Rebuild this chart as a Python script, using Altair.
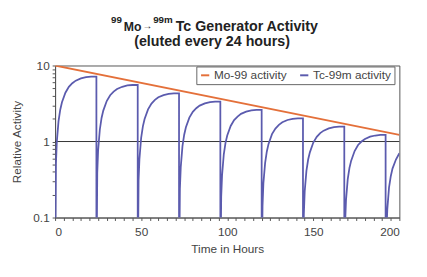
import altair as alt
import pandas as pd

# Hours into each 24 h elution cycle at which Tc-99m values were read
tau = [0, 0.5, 1, 2, 3, 4, 6, 8, 10, 12, 15, 18, 21, 24]
cycle_starts = [0, 24, 48, 72, 96, 120, 144, 168, 192]

# Tc-99m activity read per cycle (0.01 = below the 0.1 floor, right after elution)
tc_cycles = [
    [0.01, 0.51, 0.99, 1.85, 2.62, 3.28, 4.39, 5.23, 5.84, 6.32, 6.76, 7.02, 7.13, 7.14],
    [0.01, 0.39, 0.77, 1.44, 2.04, 2.55, 3.41, 4.06, 4.54, 4.91, 5.25, 5.46, 5.54, 5.55],
    [0.01, 0.31, 0.59, 1.12, 1.58, 1.98, 2.65, 3.16, 3.53, 3.82, 4.08, 4.24, 4.31, 4.31],
    [0.01, 0.24, 0.46, 0.87, 1.23, 1.54, 2.06, 2.46, 2.74, 2.97, 3.17, 3.30, 3.35, 3.35],
    [0.01, 0.19, 0.36, 0.68, 0.96, 1.20, 1.60, 1.91, 2.13, 2.31, 2.47, 2.56, 2.60, 2.61],
    [0.01, 0.14, 0.28, 0.52, 0.74, 0.93, 1.25, 1.48, 1.66, 1.79, 1.92, 1.99, 2.02, 2.02],
    [0.01, 0.11, 0.22, 0.41, 0.58, 0.72, 0.97, 1.15, 1.29, 1.39, 1.49, 1.55, 1.57, 1.57],
    [0.01, 0.087, 0.17, 0.32, 0.45, 0.56, 0.75, 0.90, 1.00, 1.08, 1.16, 1.20, 1.22, 1.22],
    [0.01, 0.067, 0.13, 0.25, 0.35, 0.44, 0.58, 0.70],
]

# Mo-99 activity (straight line on log scale)
mo_t = [0, 200]
mo_v = [10, 1.22]

series_names = ["Mo-99 activity", "Tc-99m activity"]
series_colors = ["#E4703A", "#5B5BAE"]

# Title pieces: (text, font size) — superscripts smaller
title_pieces = [("99", 10), ("Mo", 12.5), ("→", 10), ("99m", 10), ("Tc Generator Activity", 14.5)]
subtitle_text = "(eluted every 24 hours)"

rows = []
idx = 0
for t0, vals in zip(cycle_starts, tc_cycles):
    for dt, v in zip(tau, vals):
        rows.append({"t": t0 + dt, "v": v, "series": series_names[1], "i": idx})
        idx += 1
for t, v in zip(mo_t, mo_v):
    rows.append({"t": t, "v": v, "series": series_names[0], "i": idx})
    idx += 1
df = pd.DataFrame(rows)

x_ticks = list(range(0, 201, 5))
y_ticks = [0.1, 0.2, 0.3, 0.4, 0.5, 0.6, 0.7, 0.8, 0.9,
           1, 2, 3, 4, 5, 6, 7, 8, 9, 10]

lines = alt.Chart(df).mark_line(clip=True, strokeWidth=1.8).encode(
    x=alt.X("t:Q", scale=alt.Scale(domain=[0, 200], nice=False),
            axis=alt.Axis(title="Time in Hours", values=x_ticks,
                          labelExpr="datum.value % 50 == 0 ? datum.label : ''",
                          grid=False, tickSize=3, labelPadding=6,
                          titlePadding=7)),
    y=alt.Y("v:Q", scale=alt.Scale(type="log", domain=[0.1, 10], nice=False),
            axis=alt.Axis(title="Relative Activity", values=y_ticks,
                          labelExpr="datum.value == 0.1 ? '0.1' : datum.value == 1 ? '1' : datum.value == 10 ? '10' : ''",
                          grid=False, tickSize=3, labelPadding=3, titlePadding=10)),
    color=alt.Color("series:N",
                    scale=alt.Scale(domain=series_names, range=series_colors),
                    legend=alt.Legend(title=None, orient="none", legendX=144, legendY=1,
                                      direction="horizontal", symbolType="stroke",
                                      symbolSize=70, symbolStrokeWidth=2,
                                      labelFontSize=12, labelColor="#444",
                                      labelOffset=3,
                                      strokeColor="#666", fillColor="white",
                                      padding=3, columnPadding=8)),
    detail="series:N",
    order="i:Q",
)

one = alt.Chart(pd.DataFrame({"y": [1]})).mark_rule(color="#333", strokeWidth=1).encode(y="y:Q")

# Title built from text pieces so the isotope superscripts are readable
title_x = [57, 70, 89, 100, 123]
title_y = [-43, -35, -37, -43, -35]
layers = [one, lines]
for (txt, fs), px, py in zip(title_pieces, title_x, title_y):
    layers.append(
        alt.Chart(pd.DataFrame({"a": [0]})).mark_text(
            text=txt, fontSize=fs, fontWeight="bold", font="Liberation Sans",
            align="left", baseline="alphabetic", color="#222"
        ).encode(x=alt.value(px), y=alt.value(py))
    )
layers.append(
    alt.Chart(pd.DataFrame({"a": [0]})).mark_text(
        text=subtitle_text, fontSize=14.5, fontWeight="bold", font="Liberation Sans",
        align="center", baseline="alphabetic", color="#222"
    ).encode(x=alt.value(160), y=alt.value(-20))
)

chart = alt.layer(*layers).properties(
    width=351, height=155,
    autosize=alt.AutoSizeParams(type="none"),
    padding={"left": 48, "top": 56, "right": 20, "bottom": 58},
).configure_view(stroke="#555", strokeWidth=1).configure_axis(
    domainColor="#555", tickColor="#555", labelColor="#444", titleColor="#444",
    labelFontSize=12, titleFontSize=12, labelFont="Liberation Sans",
    titleFont="Liberation Sans", titleFontWeight="normal"
).configure_legend(labelFont="Liberation Sans")

chart.save("out.html", embed_options={"renderer": "svg", "actions": False})
